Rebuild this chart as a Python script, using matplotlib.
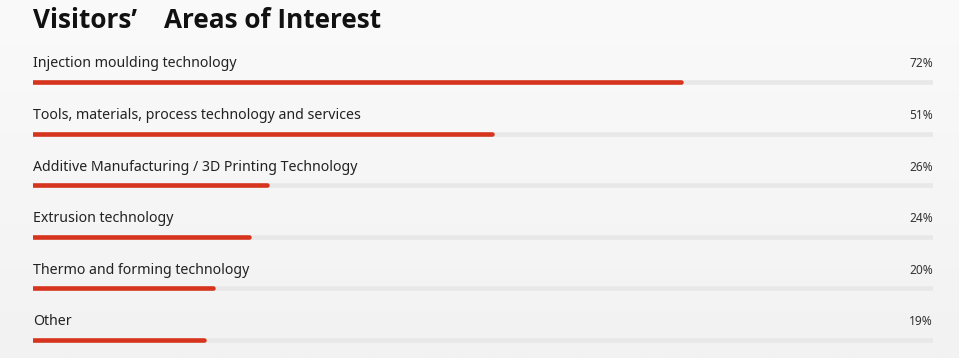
import matplotlib
matplotlib.use("Agg")
import matplotlib.pyplot as plt
import numpy as np
from matplotlib.colors import LinearSegmentedColormap

categories = [
    "Injection moulding technology",
    "Tools, materials, process technology and services",
    "Additive Manufacturing / 3D Printing Technology",
    "Extrusion technology",
    "Thermo and forming technology",
    "Other",
]
values = [72, 51, 26, 24, 20, 19]
title = "Visitors’    Areas of Interest"

W, H = 959, 358
fig = plt.figure(figsize=(W / 100, H / 100), dpi=100)

# background gradient
bg = fig.add_axes([0, 0, 1, 1])
grad = np.linspace(0, 1, 256).reshape(-1, 1)
cmap = LinearSegmentedColormap.from_list("bg", ["#fafafa", "#f2f2f2"])
bg.imshow(grad, aspect="auto", cmap=cmap, extent=[0, 1, 0, 1], origin="upper")
bg.axis("off")

left, right = 33 / W, 933 / W
ax = fig.add_axes([left, 0, right - left, 1])
ax.set_facecolor("none")
ax.axis("off")
ax.set_xlim(0, 100)
row_px = 51.6
first_px = 82
ax.set_ylim((H - first_px) / row_px, -first_px / row_px)

fam = ["Noto Sans", "DejaVu Sans"]
lw = 3.3
for i, (c, v) in enumerate(zip(categories, values)):
    ax.plot([0, 100], [i, i], color="#e8e8e8", lw=lw, solid_capstyle="round")
    ax.plot([0, v], [i, i], color="#d6341d", lw=lw, solid_capstyle="round")
    ax.text(0, i - 0.35, c, ha="left", va="center", fontsize=10.2, color="#222222", family=fam)
    ax.text(100, i - 0.35, f"{v}%", ha="right", va="center", fontsize=8.6, color="#333333", family=fam)

fig.text(33 / W, 1 - 21 / H, title, ha="left", va="center", fontsize=18.8, fontweight="bold",
         color="#111111", family=["Open Sans", "DejaVu Sans"])

fig.savefig("out.png", dpi=100)
